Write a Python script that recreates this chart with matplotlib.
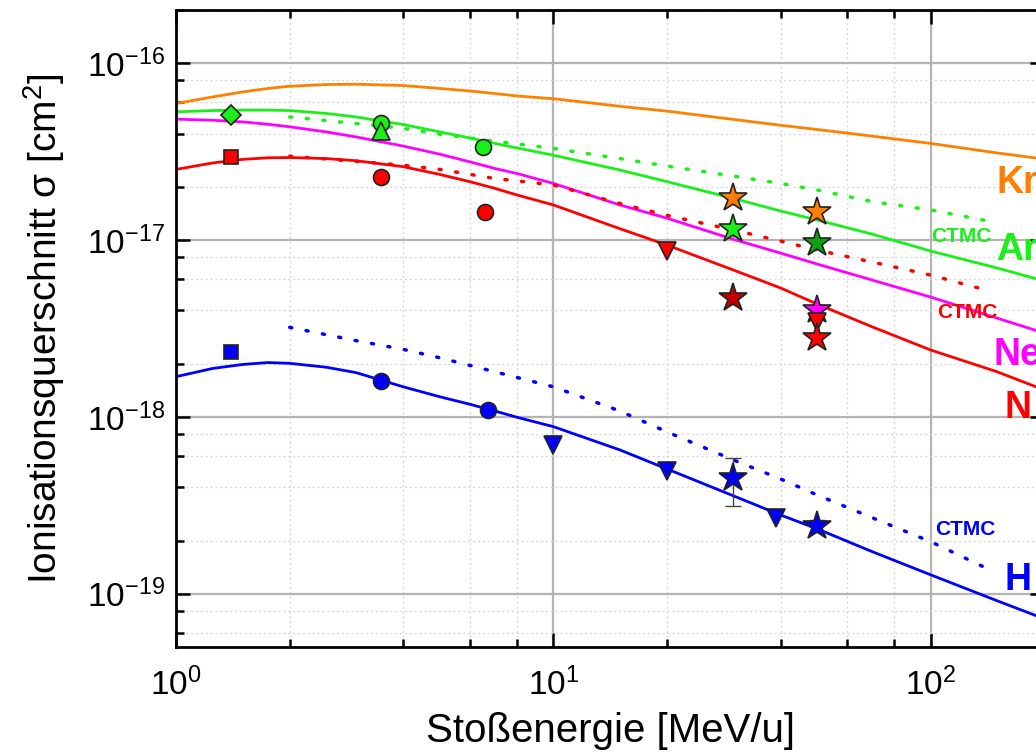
import numpy as np
import matplotlib
matplotlib.use('Agg')
import matplotlib.pyplot as plt
from matplotlib.ticker import LogLocator, NullFormatter

plt.rcParams['font.family'] = ['Liberation Sans', 'DejaVu Sans']
plt.rcParams['mathtext.fontset'] = 'custom'
plt.rcParams['mathtext.rm'] = 'Liberation Sans'
plt.rcParams['mathtext.it'] = 'Liberation Sans'
plt.rcParams['mathtext.bf'] = 'Liberation Sans:bold'
plt.rcParams['axes.unicode_minus'] = False

# theory curves (solid)
E_fit = [1, 1.25, 1.5, 1.75, 2, 2.5, 3, 4, 5, 6, 7, 8, 10, 15, 20, 30, 40, 50, 70, 100, 150, 200]
kr_fit = [5.92e-17, 6.45e-17, 6.88e-17, 7.20e-17, 7.41e-17, 7.58e-17, 7.61e-17, 7.48e-17,
          7.20e-17, 6.97e-17, 6.74e-17, 6.53e-17, 6.30e-17, 5.71e-17, 5.36e-17, 4.81e-17,
          4.46e-17, 4.22e-17, 3.87e-17, 3.52e-17, 3.11e-17, 2.87e-17]
ar_fit = [5.31e-17, 5.40e-17, 5.43e-17, 5.43e-17, 5.40e-17, 5.20e-17, 4.97e-17, 4.50e-17,
          4.09e-17, 3.78e-17, 3.52e-17, 3.32e-17, 3.02e-17, 2.49e-17, 2.14e-17, 1.72e-17,
          1.46e-17, 1.30e-17, 1.08e-17, 8.67e-18, 6.95e-18, 5.87e-18]
ne_fit = [4.83e-17, 4.76e-17, 4.66e-17, 4.52e-17, 4.37e-17, 4.09e-17, 3.83e-17, 3.40e-17,
          3.06e-17, 2.77e-17, 2.54e-17, 2.38e-17, 2.09e-17, 1.58e-17, 1.33e-17, 1.01e-17,
          8.44e-18, 7.32e-18, 5.94e-18, 4.76e-18, 3.62e-18, 2.98e-18]
n_fit = [2.51e-17, 2.73e-17, 2.86e-17, 2.92e-17, 2.93e-17, 2.89e-17, 2.81e-17, 2.60e-17,
         2.35e-17, 2.14e-17, 1.96e-17, 1.80e-17, 1.58e-17, 1.16e-17, 9.37e-18, 6.77e-18,
         5.36e-18, 4.35e-18, 3.23e-18, 2.39e-18, 1.80e-18, 1.42e-18]
h_fit = [1.69e-18, 1.88e-18, 1.98e-18, 2.03e-18, 2.01e-18, 1.91e-18, 1.78e-18, 1.48e-18,
         1.30e-18, 1.18e-18, 1.08e-18, 9.96e-19, 8.81e-19, 6.51e-19, 5.08e-19, 3.58e-19,
         2.79e-19, 2.33e-19, 1.73e-19, 1.28e-19, 9.13e-20, 7.22e-20]

# CTMC curves (dotted)
E_ctmc = [2, 3, 4, 5, 7, 10, 15, 20, 30, 40, 50, 70, 100, 140]
ar_ctmc = [4.97e-17, 4.56e-17, 4.28e-17, 3.97e-17, 3.62e-17, 3.30e-17, 2.89e-17,
           2.62e-17, 2.30e-17, 2.09e-17, 1.92e-17, 1.65e-17, 1.48e-17, 1.29e-17]
n_ctmc = [2.98e-17, 2.79e-17, 2.65e-17, 2.51e-17, 2.23e-17, 2.05e-17, 1.61e-17,
          1.38e-17, 1.14e-17, 9.87e-18, 8.78e-18, 7.51e-18, 6.34e-18, 5.22e-18]
h_ctmc = [3.21e-18, 2.70e-18, 2.41e-18, 2.16e-18, 1.80e-18, 1.48e-18, 1.08e-18,
          8.23e-19, 5.71e-19, 4.46e-19, 3.62e-19, 2.69e-19, 1.97e-19, 1.40e-19]

# measured points
kr_star_E = [30, 50]
kr_star = [1.73e-17, 1.44e-17]
ar_dia_E, ar_dia = [1.4], [5.08e-17]
ar_circ_E, ar_circ = [3.5, 6.5], [4.58e-17, 3.35e-17]
ar_tri_E, ar_tri = [3.5], [4.13e-17]
ar_star_E, ar_star = [30], [1.15e-17]
ar_dstar_E, ar_dstar = [50], [9.6e-18]
n_sq_E, n_sq = [1.4], [2.94e-17]
n_circ_E, n_circ = [3.5, 6.6], [2.27e-17, 1.44e-17]
n_tri_E, n_tri = [20, 50], [8.67e-18, 3.44e-18]
n_dstar_E, n_dstar = [30], [4.70e-18]
n_star_E, n_star = [50], [2.79e-18]
ne_star_E, ne_star = [50], [4.02e-18]
h_sq_E, h_sq = [1.4], [2.33e-18]
h_circ_E, h_circ = [3.5, 6.7], [1.60e-18, 1.10e-18]
h_tri_E, h_tri = [10, 20, 39], [6.95e-19, 4.96e-19, 2.69e-19]
h_star_E, h_star = [30, 50], [4.52e-19, 2.42e-19]
h_star_lo = [3.14e-19, 2.25e-19]
h_star_hi = [5.87e-19, 2.60e-19]

ORANGE = '#ff8000'
GREEN = '#19f019'
MAGENTA = '#ff00ff'
RED = '#ff0000'
BLUE = '#0000ff'

fig = plt.figure(figsize=(10.36, 7.52), dpi=100)
ax = fig.add_axes([0.170, 0.1396, 0.838, 0.8471])

ax.plot(E_fit, kr_fit, color=ORANGE, lw=2)
ax.plot(E_fit, ar_fit, color=GREEN, lw=2)
ax.plot(E_fit, ne_fit, color=MAGENTA, lw=2)
ax.plot(E_fit, n_fit, color=RED, lw=2)
ax.plot(E_fit, h_fit, color=BLUE, lw=2)

dots = dict(lw=2.5, linestyle=(0, (0.6, 4.2)), dash_capstyle='round')
ax.plot(E_ctmc, ar_ctmc, color=GREEN, **dots)
ax.plot(E_ctmc, n_ctmc, color=RED, **dots)
ax.plot(E_ctmc, h_ctmc, color=BLUE, **dots)

mk = dict(linestyle='none', markeredgecolor='#222222', markeredgewidth=1.2, zorder=5)

def stars(E, s, face):
    s = np.array(s)
    ax.errorbar(E, s, yerr=[s * 0.09, s * 0.09], fmt='none', ecolor='#444444', elinewidth=1, zorder=4)
    ax.plot(E, s, marker='*', ms=21, markerfacecolor=face, **mk)

stars(kr_star_E, kr_star, ORANGE)
ax.plot(ar_dia_E, ar_dia, marker='D', ms=10, markerfacecolor=GREEN, **mk)
ax.plot(ar_circ_E, ar_circ, marker='o', ms=11.5, markerfacecolor=GREEN, **mk)
ax.plot(ar_tri_E, ar_tri, marker='^', ms=13, markerfacecolor=GREEN, **mk)
stars(ar_star_E, ar_star, GREEN)
stars(ar_dstar_E, ar_dstar, '#10a010')
ax.plot(n_sq_E, n_sq, marker='s', ms=9.5, markerfacecolor=RED, **mk)
ax.plot(n_circ_E, n_circ, marker='o', ms=11.5, markerfacecolor=RED, **mk)
stars(ne_star_E, ne_star, MAGENTA)
ax.plot(n_tri_E, n_tri, marker='v', ms=13, markerfacecolor=RED, **mk)
stars(n_dstar_E, n_dstar, '#c00000')
stars(n_star_E, n_star, RED)
ax.plot(h_sq_E, h_sq, marker='s', ms=9.5, markerfacecolor=BLUE, **mk)
ax.plot(h_circ_E, h_circ, marker='o', ms=11.5, markerfacecolor=BLUE, **mk)
ax.plot(h_tri_E, h_tri, marker='v', ms=13, markerfacecolor=BLUE, **mk)
h_star = np.array(h_star)
ax.errorbar(h_star_E, h_star, yerr=[h_star - np.array(h_star_lo), np.array(h_star_hi) - h_star],
            fmt='none', ecolor='#444444', elinewidth=1, capsize=6, capthick=1, zorder=4)
ax.plot(h_star_E, h_star, marker='*', ms=21, markerfacecolor=BLUE, **mk)

ax.set_xscale('log')
ax.set_yscale('log')
ax.set_xlim(1, 200)
ax.set_ylim(5e-20, 2e-16)

for axis in (ax.xaxis, ax.yaxis):
    axis.set_minor_locator(LogLocator(base=10, subs=(2, 4, 6, 8)))
    axis.set_minor_formatter(NullFormatter())

ax.grid(True, which='major', color='#b4b4b4', lw=1.6)
ax.grid(True, which='minor', color='#d8d8d8', lw=1, linestyle=(0, (1.5, 2)))
ax.set_axisbelow(True)

ax.tick_params(which='both', direction='in', top=True, right=True, width=1.8, color='black')
ax.tick_params(which='major', length=10, labelsize=24)
ax.tick_params(axis='y', which='major', pad=8)
ax.tick_params(axis='x', which='major', pad=15)
ax.tick_params(which='minor', length=6)
for sp in ax.spines.values():
    sp.set_linewidth(2)

ax.set_xlabel('Stoßenergie [MeV/u]', fontsize=29, labelpad=7)
ax.set_ylabel('Ionisationsquerschnitt σ [cm$^2$]', fontsize=28, labelpad=14)

lab = dict(fontsize=27, fontweight='bold', ha='left', va='center')
ax.text(149, 2.1e-17, 'Kr', color=ORANGE, **lab)
ax.text(149, 8.8e-18, 'Ar', color=GREEN, **lab)
ax.text(147, 2.24e-18, 'Ne', color=MAGENTA, **lab)
ax.text(157, 1.12e-18, 'N', color=RED, **lab)
ax.text(157, 1.2e-19, 'H', color=BLUE, **lab)
small = dict(fontsize=15, fontweight='bold', ha='left', va='center')
ax.text(100, 1.05e-17, 'CTMC', color=GREEN, **small)
ax.text(104, 3.92e-18, 'CTMC', color=RED, **small)
ax.text(103, 2.3e-19, 'CTMC', color=BLUE, **small)

fig.savefig('out.png', dpi=100)
